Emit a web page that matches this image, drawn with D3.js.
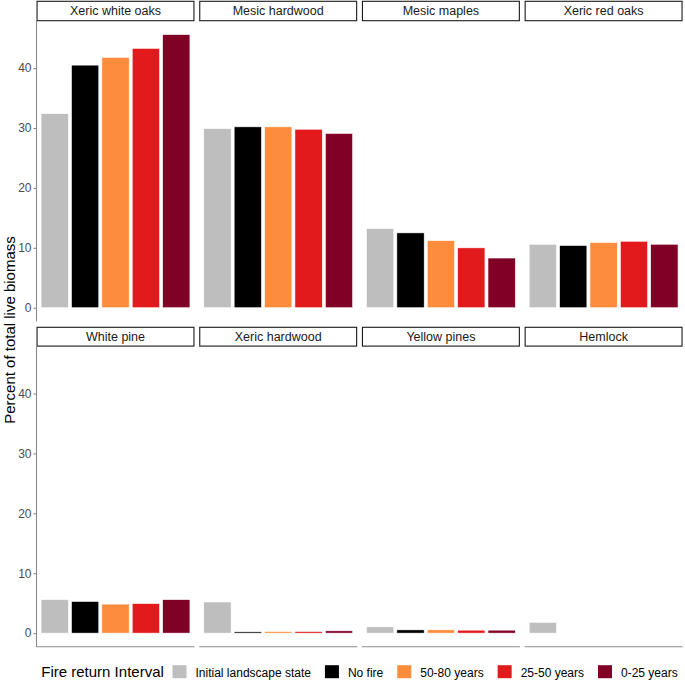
<!DOCTYPE html>
<html>
<head>
<meta charset="utf-8">
<script src="https://cdn.jsdelivr.net/npm/d3@7"></script>
<style>
  html, body { margin: 0; padding: 0; background: #fff; }
  svg { display: block; font-family: "Liberation Sans", Arial, sans-serif; }
</style>
</head>
<body>
<svg id="chart" width="685" height="681"></svg>
<script>
// ---- Data ----
const facets = ["Xeric white oaks", "Mesic hardwood", "Mesic maples", "Xeric red oaks",
                "White pine", "Xeric hardwood", "Yellow pines", "Hemlock"];
const intervals = ["Initial landscape state", "No fire", "50-80 years", "25-50 years", "0-25 years"];
const intervalColors = ["#BEBEBE", "#000000", "#FD8D3C", "#E31A1C", "#800026"];
const initialState = [32.4, 29.9, 13.2, 10.6, 5.6, 5.2, 1.05, 1.8];
const noFire       = [40.5, 30.2, 12.5, 10.4, 5.3, 0.22, 0.55, 0];
const years50to80  = [41.8, 30.2, 11.2, 10.9, 4.85, 0.28, 0.55, 0];
const years25to50  = [43.3, 29.8, 10.0, 11.1, 4.95, 0.28, 0.5, 0];
const years0to25   = [45.6, 29.1, 8.3, 10.6, 5.6, 0.39, 0.5, 0];
const yTicks = [0, 10, 20, 30, 40];
const yTitle = "Percent of total live biomass";
const legendTitle = "Fire return Interval";

const series = [initialState, noFire, years50to80, years25to50, years0to25];

// ---- Layout ----
const svg = d3.select("#chart");
const panelLeft0 = 36.5, panelW = 158, gapX = 4.7;
const rows = [
  { stripTop: 1.3, stripBot: 20.7, top: 20.9, bottom: 321.4 },
  { stripTop: 327.3, stripBot: 346.1, top: 346.3, bottom: 646.8 }
];
const axisColor = "#8a8a8a";

const maxVal = d3.max(series.flat());
const expand = maxVal * 0.05;

const x = d3.scaleBand().domain(intervals).paddingInner(0.1).paddingOuter(0.15).align(0.5);

facets.forEach((facet, fi) => {
  const r = Math.floor(fi / 4), c = fi % 4;
  const row = rows[r];
  const left = panelLeft0 + c * (panelW + gapX);
  const xs = x.copy().range([left, left + panelW]);
  const y = d3.scaleLinear().domain([-expand, maxVal + expand]).range([row.bottom, row.top]);
  const g = svg.append("g");

  // strip
  g.append("rect")
    .attr("x", left + 0.55).attr("y", row.stripTop)
    .attr("width", panelW - 1.1).attr("height", row.stripBot - row.stripTop)
    .attr("fill", "#fff").attr("stroke", "#1a1a1a").attr("stroke-width", 1.1);
  g.append("text")
    .attr("x", left + panelW / 2).attr("y", (row.stripTop + row.stripBot) / 2)
    .attr("dy", "0.35em").attr("text-anchor", "middle")
    .attr("font-size", 12.5).attr("fill", "#1a1a1a").text(facet);

  // bars
  const data = intervals.map((iv, k) => ({ iv, k, v: series[k][fi] }));
  g.selectAll("rect.bar").data(data.filter(d => d.v > 0)).enter().append("rect")
    .attr("class", "bar")
    .attr("x", d => xs(d.iv)).attr("width", xs.bandwidth())
    .attr("y", d => y(d.v)).attr("height", d => y(0) - y(d.v))
    .attr("fill", d => intervalColors[d.k])
    .attr("stroke", "#ffffff").attr("stroke-width", 0.6);

  // y axis on left column
  if (c === 0) {
    const ax = g.append("g").attr("transform", `translate(${left},0)`)
      .call(d3.axisLeft(y).tickValues(yTicks).tickSize(3).tickPadding(2).tickFormat(d3.format("d")));
    ax.select(".domain").attr("d", `M0,${row.top}V${row.bottom}`).attr("stroke", axisColor).attr("stroke-width", 1.1);
    ax.selectAll(".tick line").attr("stroke", axisColor).attr("stroke-width", 1.1);
    ax.selectAll(".tick text").attr("font-size", 12).attr("fill", "#4d4d4d")
      .attr("font-family", "'Liberation Sans', Arial, sans-serif");
  }
  // x axis line on bottom row
  if (r === 1) {
    g.append("line")
      .attr("x1", left).attr("x2", left + panelW)
      .attr("y1", row.bottom).attr("y2", row.bottom)
      .attr("stroke", axisColor).attr("stroke-width", 1.1);
  }
});

// y axis title
svg.append("text")
  .attr("transform", `translate(15,330) rotate(-90)`)
  .attr("text-anchor", "middle").attr("font-size", 15).attr("fill", "#000")
  .text(yTitle);

// legend
const legend = svg.append("g");
const baseY = 677.2;
const keyW = 14, keyH = 13;
const tTitle = legend.append("text").attr("y", baseY).attr("font-size", 15).attr("fill", "#000").text(legendTitle);
const titleW = tTitle.node().getComputedTextLength();
const labelNodes = intervals.map(iv =>
  legend.append("text").attr("y", baseY).attr("font-size", 12).attr("fill", "#000").text(iv));
const labelWs = labelNodes.map(n => n.node().getComputedTextLength());
const gapTitle = 8.7, gapKeyLabel = 9, gapItem = 14;
let total = titleW + gapTitle;
labelWs.forEach((w, i) => { total += keyW + gapKeyLabel + w + (i < labelWs.length - 1 ? gapItem : 0); });
let cx = 359.5 - total / 2;
tTitle.attr("x", cx);
cx += titleW + gapTitle;
intervals.forEach((iv, i) => {
  legend.append("rect").attr("x", cx).attr("y", 665.2).attr("width", keyW).attr("height", keyH)
    .attr("fill", intervalColors[i]);
  cx += keyW + gapKeyLabel;
  labelNodes[i].attr("x", cx);
  cx += labelWs[i] + gapItem;
});
</script>
</body>
</html>
